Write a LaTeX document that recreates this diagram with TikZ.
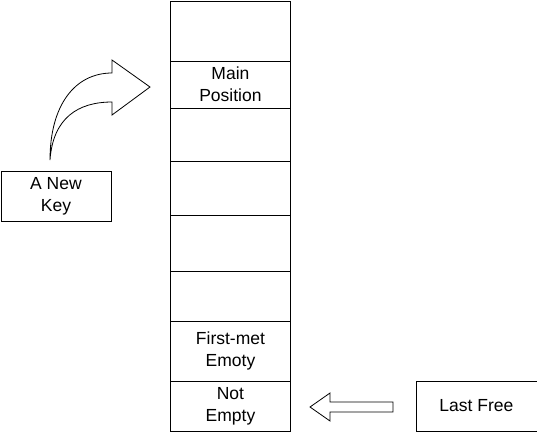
\documentclass[tikz,border=0pt]{standalone}
\usepackage{fontspec}
\setmainfont{Liberation Sans}
\begin{document}
\begin{tikzpicture}[x=1pt,y=-1pt,
  cell/.style={draw,line width=0.9pt,minimum width=120pt,inner sep=0pt,anchor=north west,align=center,font=\fontsize{17.5}{22}\selectfont},
  lbl/.style={draw,line width=0.9pt,inner sep=0pt,anchor=north west,align=center,font=\fontsize{17.5}{22}\selectfont},
  hollow/.style={draw,line width=0.8pt,fill=white,line join=miter}]
\useasboundingbox (0,0) rectangle (537,432);
\node[cell,minimum height=60pt] (c1) at (170,0.5) {};
\node[cell,minimum height=47pt] (c2) at (170,60.5) {Main\\Position};
\node[cell,minimum height=53pt] (c3) at (170,107.5) {};
\node[cell,minimum height=54pt] (c4) at (170,160.5) {};
\node[cell,minimum height=56pt] (c5) at (170,214.5) {};
\node[cell,minimum height=50pt] (c6) at (170,270.5) {};
\node[cell,minimum height=60pt] (c7) at (170,320.5) {First-met\\Emoty};
\node[cell,minimum height=50pt] (c8) at (170,380.5) {Not\\Empty};
\node[lbl,minimum width=110pt,minimum height=50pt] (k) at (0.5,170.5) {A New\\Key};
\node[lbl,minimum width=121pt,minimum height=50pt] (lf) at (415.5,380.5) {Last Free};
% curved hollow arrow
\coordinate (cs) at (50,160);
\draw[hollow] (cs) .. controls (50,105) and (75,73) .. (112,73) -- (112,60) -- (150,87) -- (112,115) -- (112,102) .. controls (78,102) and (53,118) .. (cs) -- cycle;
% straight hollow arrow
\coordinate (at) at (310,407);
\draw[hollow] (393,402) -- (330,402) -- (330,393) -- (at) -- (330,421) -- (330,412) -- (393,412) -- cycle;
\end{tikzpicture}
\end{document}
